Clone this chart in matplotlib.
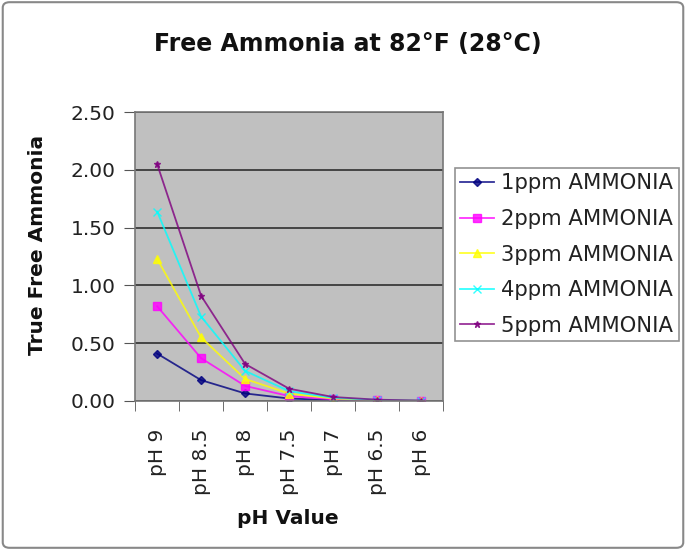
import matplotlib
matplotlib.use("Agg")
import matplotlib.pyplot as plt
from matplotlib.patches import FancyBboxPatch

plt.rcParams['font.family'] = ['DejaVu Sans']

# data
ph_labels = ['pH 9', 'pH 8.5', 'pH 8', 'pH 7.5', 'pH 7', 'pH 6.5', 'pH 6']
ppm1 = [0.41, 0.18, 0.065, 0.021, 0.0068, 0.0022, 0.0007]
ppm2 = [0.82, 0.37, 0.13, 0.042, 0.014, 0.0044, 0.0014]
ppm3 = [1.23, 0.55, 0.19, 0.064, 0.020, 0.0066, 0.0021]
ppm4 = [1.64, 0.73, 0.26, 0.085, 0.027, 0.0088, 0.0028]
ppm5 = [2.05, 0.91, 0.32, 0.106, 0.034, 0.011, 0.0035]
series_names = ['1ppm AMMONIA', '2ppm AMMONIA', '3ppm AMMONIA',
                '4ppm AMMONIA', '5ppm AMMONIA']
yticks = [0, 0.5, 1.0, 1.5, 2.0, 2.5]

colors = ['#000080', '#FF00FF', '#FFFF00', '#00FFFF', '#800080']
markers = ['D', 's', '^', 'x', '*']
msizes = [4, 6, 6, 6, 5]

fig = plt.figure(figsize=(6.86, 5.5), dpi=100)
ax = fig.add_axes([0.197, 0.271, 0.449, 0.525])
ax.set_facecolor('#C0C0C0')

x = list(range(len(ph_labels)))
for vals, name, c, m, s in zip([ppm1, ppm2, ppm3, ppm4, ppm5], series_names,
                               colors, markers, msizes):
    ax.plot(x, vals, color=c, marker=m, markersize=s, linewidth=1.3,
            label=name, alpha=0.8)

ax.set_xlim(-0.5, len(ph_labels) - 0.5)
ax.set_ylim(0, 2.5)
ax.set_yticks(yticks)
ax.set_yticklabels(['%.2f' % v for v in yticks], fontsize=14.5, color='#222222')
ax.set_xticks(x)
ax.set_xticklabels(ph_labels, rotation=90, fontsize=14.5, color='#222222')
ax.tick_params(axis='x', which='major', length=0, pad=20)
ax.set_xticks([i + 0.5 for i in range(-1, len(ph_labels))], minor=True)
ax.tick_params(axis='x', which='minor', length=7, color='#555555')
ax.tick_params(axis='y', length=8, color='#555555', pad=6)
ax.yaxis.grid(True, color='#444444', linewidth=1.4)
ax.set_axisbelow(True)
for sp in ax.spines.values():
    sp.set_color('#777777')
    sp.set_linewidth(1.2)

fig.text(0.507, 1 - 44 / 550, 'Free Ammonia at 82°F (28°C)', fontsize=17,
         fontweight='bold', ha='center', va='center', color='#111111')
fig.text(0.419, 1 - 519 / 550, 'pH Value', fontsize=14.5, fontweight='bold',
         ha='center', va='center', color='#111111')
fig.text(38 / 686, 1 - 245 / 550, 'True Free Ammonia', fontsize=14.5,
         fontweight='bold', rotation=90, ha='center', va='center',
         color='#111111')

leg = ax.legend(loc='upper left', bbox_to_anchor=(455 / 686, 1 - 168 / 550),
                bbox_transform=fig.transFigure, fontsize=15.2, frameon=True,
                fancybox=False, handlelength=1.6, handletextpad=0.35,
                labelspacing=0.74, borderpad=0.25, borderaxespad=0,
                edgecolor='#777777')
leg.get_frame().set_linewidth(1.2)
for t in leg.get_texts():
    t.set_color('#222222')

fig.patches.append(FancyBboxPatch((0.004, 0.004), 0.992, 0.992,
                                  boxstyle='round,pad=0,rounding_size=0.01',
                                  transform=fig.transFigure, fill=False,
                                  edgecolor='#888888', linewidth=1.5))

fig.savefig('out.png', dpi=100)
